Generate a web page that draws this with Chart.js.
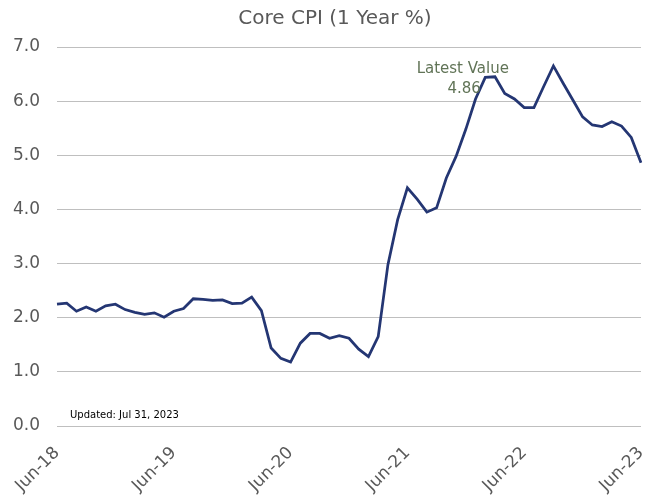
<!DOCTYPE html>
<html>
<head>
<meta charset="utf-8">
<script src="https://cdn.jsdelivr.net/npm/chart.js@4.4.0/dist/chart.umd.min.js"></script>
<style>
  html, body { margin: 0; padding: 0; background: #ffffff; }
  #wrap { width: 645px; height: 499px; position: relative; }
</style>
</head>
<body>
<div id="wrap"><canvas id="cpiChart"></canvas></div>
<script>
// Monthly categories, Jun-18 .. Jun-23
const months = [
  "Jun-18", "Jul-18", "Aug-18", "Sep-18", "Oct-18", "Nov-18", "Dec-18",
  "Jan-19", "Feb-19", "Mar-19", "Apr-19", "May-19", "Jun-19", "Jul-19", "Aug-19", "Sep-19", "Oct-19", "Nov-19", "Dec-19",
  "Jan-20", "Feb-20", "Mar-20", "Apr-20", "May-20", "Jun-20", "Jul-20", "Aug-20", "Sep-20", "Oct-20", "Nov-20", "Dec-20",
  "Jan-21", "Feb-21", "Mar-21", "Apr-21", "May-21", "Jun-21", "Jul-21", "Aug-21", "Sep-21", "Oct-21", "Nov-21", "Dec-21",
  "Jan-22", "Feb-22", "Mar-22", "Apr-22", "May-22", "Jun-22", "Jul-22", "Aug-22", "Sep-22", "Oct-22", "Nov-22", "Dec-22",
  "Jan-23", "Feb-23", "Mar-23", "Apr-23", "May-23", "Jun-23"
];

// Core CPI, year-over-year %
const coreCpi = [
  2.25, 2.27, 2.12, 2.20, 2.12, 2.22, 2.25,
  2.15, 2.10, 2.06, 2.09, 2.01, 2.12, 2.17, 2.35, 2.34, 2.32, 2.33, 2.26,
  2.27, 2.38, 2.13, 1.44, 1.25, 1.18, 1.53, 1.71, 1.71, 1.62, 1.67, 1.62,
  1.42, 1.28, 1.65, 2.98, 3.81, 4.40, 4.19, 3.95, 4.03, 4.58, 4.98, 5.48,
  6.04, 6.44, 6.45, 6.14, 6.04, 5.88, 5.88, 6.27, 6.65, 6.33, 6.02, 5.71,
  5.56, 5.53, 5.62, 5.54, 5.33, 4.86
];

// labelled x ticks
const xTickLabels = ["Jun-18", "Jun-19", "Jun-20", "Jun-21", "Jun-22", "Jun-23"];

const chartTitle = "Core CPI (1 Year %)";
const updatedNote = "Updated: Jul 31, 2023";
const latestValue = coreCpi[coreCpi.length - 1];

const FONT = "'DejaVu Sans', Verdana, sans-serif";

// draws the title, the "Latest Value" note and the update date
const notesPlugin = {
  id: "notes",
  afterDraw(chart) {
    const { ctx, chartArea, scales } = chart;
    ctx.save();
    ctx.fillStyle = "#595959";
    ctx.font = "20px " + FONT;
    ctx.textAlign = "center";
    ctx.textBaseline = "middle";
    ctx.fillText(chartTitle, 335, 19);

    ctx.fillStyle = "#617457";
    ctx.font = "15px " + FONT;
    const xMid = scales.x.getPixelForValue(42) - 3;
    ctx.fillText("Latest Value", xMid, scales.y.getPixelForValue(6.6));
    ctx.textAlign = "right";
    ctx.fillText(latestValue.toFixed(2), xMid + 18, scales.y.getPixelForValue(6.22));

    ctx.fillStyle = "#000000";
    ctx.font = "10px " + FONT;
    ctx.textAlign = "left";
    ctx.fillText(updatedNote, chartArea.left + 13, chartArea.bottom - 11);
    ctx.restore();
  },
};

const ctx = document.getElementById("cpiChart").getContext("2d");
const cpiChart = new Chart(ctx, {
  type: "line",
  data: {
    labels: months,
    datasets: [
      {
        label: "Core CPI",
        data: coreCpi,
        borderColor: "#243673",
        borderWidth: 2.75,
        pointRadius: 0,
        tension: 0,
        fill: false,
      },
    ],
  },
  options: {
    responsive: true,
    maintainAspectRatio: false,
    animation: false,
    layout: {
      padding: { top: 47, right: 4, bottom: 0, left: 0 },
    },
    plugins: {
      legend: { display: false },
      tooltip: { enabled: false },
      title: { display: false },
    },
    scales: {
      x: {
        grid: { display: false },
        border: { display: false },
        afterFit(scale) {
          scale.height = 73;
          scale.paddingLeft = 0;
          scale.paddingRight = 0;
        },
        ticks: {
          autoSkip: false,
          maxRotation: 45,
          minRotation: 45,
          padding: 9,
          color: "#595959",
          font: { family: FONT, size: 17 },
          callback: function (value) {
            const label = this.getLabelForValue(value);
            return xTickLabels.includes(label) ? label : "";
          },
        },
      },
      y: {
        min: 0,
        max: 7,
        border: { display: false },
        grid: { color: "#bfbfbf", lineWidth: 1, drawTicks: false },
        afterFit(scale) {
          scale.width = 57;
          scale.paddingTop = 0;
          scale.paddingBottom = 0;
        },
        ticks: {
          stepSize: 1,
          padding: 17,
          color: "#595959",
          font: { family: FONT, size: 17 },
          callback: function (value) {
            return value.toFixed(1);
          },
        },
      },
    },
  },
  plugins: [notesPlugin],
});
</script>
</body>
</html>
